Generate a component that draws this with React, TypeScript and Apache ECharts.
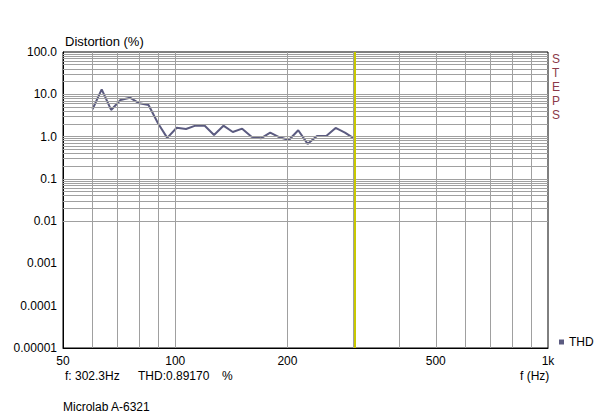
import React, { useEffect, useRef } from "react";
import * as echarts from "echarts";

const freqHz = [60.0, 63.5, 67.3, 71.3, 75.6, 80.1, 84.8, 89.9, 95.2, 100.9, 106.9, 113.3, 120.0, 127.1, 134.7, 142.7, 151.2, 160.2, 169.7, 179.8, 190.5, 201.8, 213.8, 226.5, 240.0, 254.2, 269.3, 285.3, 302.3];
const thdPercent = [4.42, 13.1, 4.26, 7.33, 8.31, 6.13, 5.58, 2.06, 0.93, 1.62, 1.51, 1.81, 1.81, 1.09, 1.81, 1.28, 1.54, 0.99, 0.91, 1.24, 0.96, 0.83, 1.41, 0.67, 1.03, 1.03, 1.6, 1.24, 0.8917];

const xLabelValues = [50, 100, 200, 500, 1000];
const xLabelTexts = ["50", "100", "200", "500", "1k"];
const xGridValues = [60, 70, 80, 90, 100, 200, 300, 400, 500, 600, 700, 800, 900];

const yDecades = [0.00001, 0.0001, 0.001, 0.01, 0.1, 1, 10];
const yMultipliers = [1, 2, 3, 4, 5, 6, 7, 8, 9];
const yLabelTexts = ["0.00001", "0.0001", "0.001", "0.01", "0.1", "1.0", "10.0", "100.0"];

const stepsLetters = ["S", "T", "E", "P", "S"];

const cursorHz = 302.3;
const cursorThd = "0.89170";
const deviceName = "Microlab A-6321";

const FONT = "Liberation Sans, Arial, sans-serif";

export default function App() {
  const ref = useRef<HTMLDivElement>(null);
  useEffect(() => {
    if (!ref.current) return;
    const chart = echarts.init(ref.current, null, { renderer: "svg" });
    const yGridValues: number[] = [];
    yDecades.forEach((d) =>
      yMultipliers.forEach((m) => {
        if (!(d === 0.00001 && m === 1)) yGridValues.push(d * m);
      })
    );
    const gridLineData: any[] = [
      ...xGridValues.map((v) => ({ xAxis: v })),
      ...yGridValues.map((v) => ({ yAxis: v })),
    ];
    chart.setOption({
      animation: false,
      textStyle: { fontFamily: FONT },
      grid: {
        left: 63,
        top: 52,
        right: 52,
        bottom: 71,
        show: true,
        borderColor: "#000",
        borderWidth: 1,
        backgroundColor: "#fff",
        z: 0,
      },
      legend: {
        data: ["THD"],
        left: 554,
        top: 331,
        icon: "rect",
        itemWidth: 5,
        itemHeight: 5,
        textStyle: { fontSize: 12, color: "#000", fontFamily: FONT },
      },
      xAxis: {
        type: "log",
        logBase: 10,
        min: 50,
        max: 1000,
        axisLine: { show: true, lineStyle: { color: "#000" } },
        axisTick: { show: false },
        splitLine: { show: false },
        axisLabel: {
          customValues: xLabelValues,
          margin: 7,
          fontSize: 12,
          color: "#000",
          fontFamily: FONT,
          formatter: (v: number) => {
            let best = 0;
            xLabelValues.forEach((x, i) => {
              if (Math.abs(x - v) < Math.abs(xLabelValues[best] - v)) best = i;
            });
            return xLabelTexts[best];
          },
        },
      },
      yAxis: {
        type: "log",
        logBase: 10,
        min: 0.00001,
        max: 100,
        splitNumber: 7,
        axisLine: { show: true, lineStyle: { color: "#000" } },
        axisTick: { show: false },
        splitLine: { show: false },
        axisLabel: {
          margin: 6,
          fontSize: 12,
          color: "#000",
          fontFamily: FONT,
          formatter: (v: number) => {
            const e = Math.round(Math.log10(v));
            return yLabelTexts[e + 5] ?? "";
          },
        },
      },
      series: [
        {
          type: "line",
          data: [],
          silent: true,
          z: 1,
          markLine: {
            silent: true,
            symbol: "none",
            label: { show: false },
            lineStyle: { color: "#a0a0a0", type: "solid", width: 1 },
            data: gridLineData,
          },
        },
        {
          name: "THD",
          type: "line",
          data: freqHz.map((f, i) => [f, thdPercent[i]]),
          showSymbol: false,
          symbol: "rect",
          z: 3,
          itemStyle: { color: "#5b5b80" },
          lineStyle: { color: "#5b5b80", width: 2 },
        },
        {
          type: "line",
          data: [],
          silent: true,
          z: 4,
          markLine: {
            silent: true,
            symbol: "none",
            label: { show: false },
            lineStyle: { color: "#c8c800", type: "solid", width: 2 },
            data: [{ xAxis: cursorHz }],
          },
        },
      ],
      graphic: [
        {
          type: "text",
          left: 65,
          top: 35,
          style: { text: "Distortion (%)", fontSize: 13, fill: "#000", fontFamily: FONT },
        },
        ...stepsLetters.map((ch, i) => ({
          type: "text",
          left: 552,
          top: 53 + i * 14,
          style: { text: ch, fontSize: 12, lineHeight: 12, fill: "#8b3a4a", fontFamily: FONT },
        })),
        {
          type: "text",
          left: 65,
          top: 370,
          style: { text: `f: ${cursorHz}Hz`, fontSize: 12, fill: "#000", fontFamily: FONT },
        },
        {
          type: "text",
          left: 138,
          top: 370,
          style: { text: `THD:${cursorThd}`, fontSize: 12, fill: "#000", fontFamily: FONT },
        },
        {
          type: "text",
          left: 222,
          top: 370,
          style: { text: "%", fontSize: 12, fill: "#000", fontFamily: FONT },
        },
        {
          type: "text",
          left: 520,
          top: 370,
          style: { text: "f (Hz)", fontSize: 12, fill: "#000", fontFamily: FONT },
        },
        {
          type: "text",
          left: 63,
          top: 401,
          style: { text: deviceName, fontSize: 12, fill: "#000", fontFamily: FONT },
        },
      ],
    });
    return () => chart.dispose();
  }, []);
  return (
    <div
      ref={ref}
      style={{ position: "fixed", left: 0, top: 0, width: 600, height: 419, background: "#fff" }}
    />
  );
}
